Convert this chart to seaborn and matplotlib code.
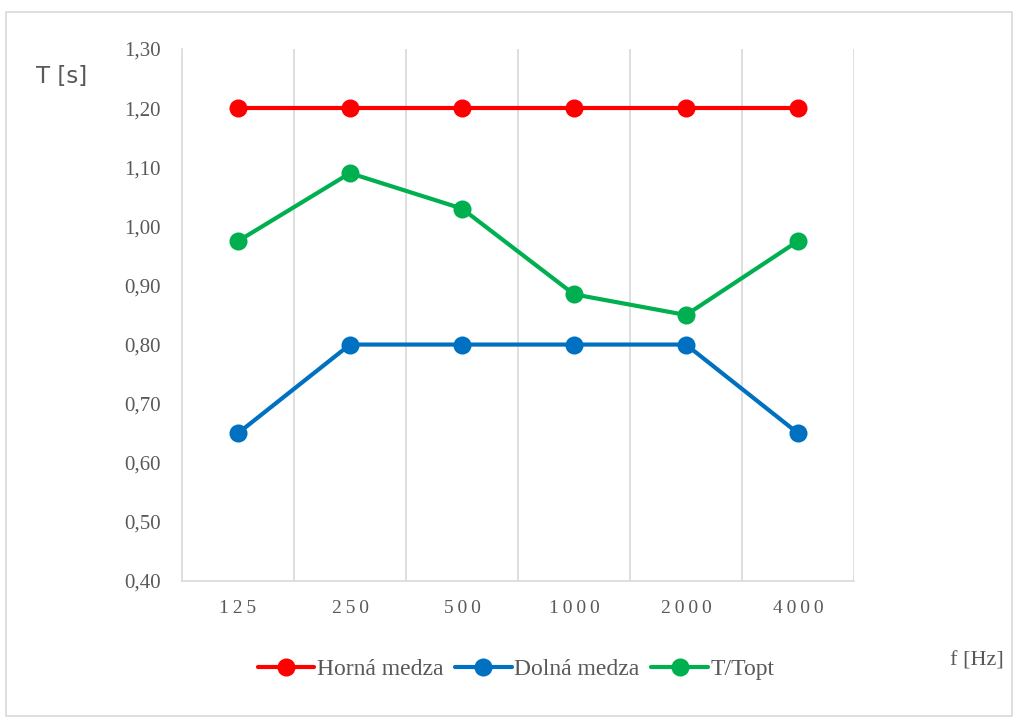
import matplotlib
matplotlib.use('Agg')
import matplotlib.pyplot as plt
import pandas as pd
import seaborn as sns
from matplotlib.patches import Rectangle

sns.set_theme(style="white")

freqs = ["125", "250", "500", "1000", "2000", "4000"]
horna = [1.20, 1.20, 1.20, 1.20, 1.20, 1.20]
dolna = [0.65, 0.80, 0.80, 0.80, 0.80, 0.65]
t_topt = [0.975, 1.09, 1.03, 0.885, 0.85, 0.975]

series_names = ["Horná medza", "Dolná medza", "T/Topt"]
colors = ["#FF0000", "#0070C0", "#00B050"]

df = pd.DataFrame({
    "f": freqs * 3,
    "T": horna + dolna + t_topt,
    "series": [s for s in series_names for _ in freqs],
})

fig = plt.figure(figsize=(10.18, 7.22), dpi=100)
ax = fig.add_axes([182 / 1018, 1 - 581 / 722, (854 - 182) / 1018, (581 - 49) / 722])

sns.lineplot(data=df, x="f", y="T", hue="series", palette=colors,
             marker="o", markersize=13, markeredgewidth=0, linewidth=3,
             sort=False, ax=ax, legend=True)

ax.set_xlim(-0.5, 5.5)
ax.set_ylim(0.40, 1.30)
ax.set_yticks([0.4 + 0.1 * i for i in range(10)])
ax.set_yticklabels([f"{0.4 + 0.1 * i:.2f}".replace(".", ",") for i in range(10)],
                   family="Liberation Serif", fontsize=15, color="#595959")
ax.set_xticks(range(len(freqs)))
ax.set_xticklabels(["\u2009".join(f) for f in freqs],
                   family="Liberation Serif", fontsize=14, color="#595959")
ax.tick_params(axis="x", length=0, pad=14)
ax.tick_params(axis="y", length=0, pad=15)

# vertical separators between categories
for xv in [0.5, 1.5, 2.5, 3.5, 4.5, 5.5]:
    ax.axvline(xv, color="#D9D9D9", linewidth=1.2, zorder=0)

for side in ["top", "right"]:
    ax.spines[side].set_visible(False)
for side in ["left", "bottom"]:
    ax.spines[side].set_color("#D9D9D9")
    ax.spines[side].set_linewidth(1.2)

ax.set_xlabel("")
ax.set_ylabel("")

fig.text(36 / 1018, 1 - 76 / 722, "T [s]", fontsize=16.5, color="#595959",
         family="DejaVu Sans", va="center", ha="left")
fig.text(1004 / 1018, 1 - 661 / 722, "f [Hz]", fontsize=16, color="#595959",
         family="Liberation Serif", va="center", ha="right")

handles, labels = ax.get_legend_handles_labels()
ax.get_legend().remove()
fig.legend(handles, labels, loc="center", bbox_to_anchor=(516 / 1018, 1 - 669 / 722),
           ncol=3, frameon=False, handlelength=2.4, handletextpad=0.1,
           columnspacing=0.5, prop={"family": "Liberation Serif", "size": 17},
           labelcolor="#595959")

fig.patches.append(Rectangle((6 / 1018, 6 / 722), 1006 / 1018, 704 / 722,
                             transform=fig.transFigure, fill=False,
                             edgecolor="#D9D9D9", linewidth=1.2))

plt.savefig("out.png", dpi=100)
plt.close()
